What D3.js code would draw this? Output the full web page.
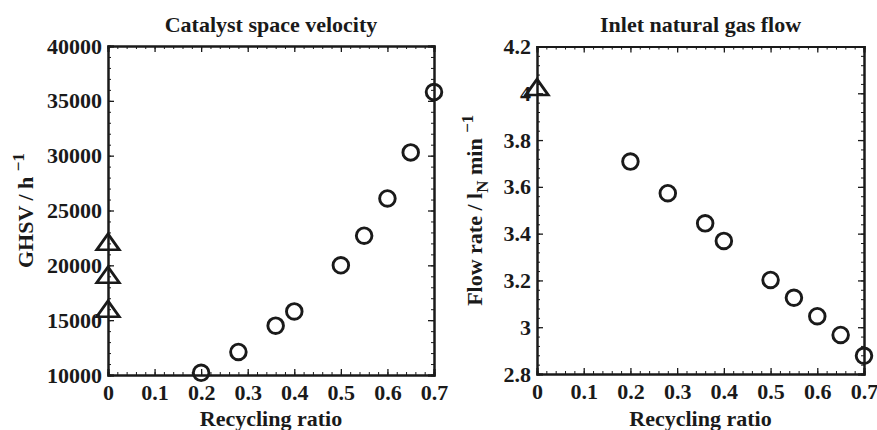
<!DOCTYPE html>
<html>
<head>
<meta charset="utf-8">
<script src="https://cdn.jsdelivr.net/npm/d3@7"></script>
<style>
  html, body { margin: 0; padding: 0; background: #fff; }
  svg { display: block; }
  text { font-family: "Liberation Serif", "Times New Roman", serif; font-weight: bold; fill: #1a1a1a; }
</style>
</head>
<body>
<svg id="chart" width="877" height="430"></svg>
<script>
// Recycling ratio values for the recycle cases (circles)
const recycleRatio = [0.2, 0.28, 0.36, 0.4, 0.5, 0.55, 0.6, 0.65, 0.7];

// Left panel: catalyst GHSV (h^-1)
const ghsvRecycle = [10200, 12100, 14500, 15800, 20000, 22700, 26100, 30300, 35800];
const ghsvNoRecycleRatio = [0, 0, 0];
const ghsvNoRecycle = [21900, 18900, 15800];

// Right panel: inlet natural gas flow (l_N/min)
const flowRecycle = [3.708, 3.573, 3.444, 3.369, 3.202, 3.126, 3.047, 2.967, 2.878];
const flowNoRecycleRatio = [0];
const flowNoRecycle = [4.015];

// Axis ticks
const xTicks = [0, 0.1, 0.2, 0.3, 0.4, 0.5, 0.6, 0.7];
const ghsvTicks = [10000, 15000, 20000, 25000, 30000, 35000, 40000];
const flowTicks = [2.8, 3.0, 3.2, 3.4, 3.6, 3.8, 4.0, 4.2];
const flowTickLabels = ["2.8", "3", "3.2", "3.4", "3.6", "3.8", "4", "4.2"];

const ink = "#1a1a1a";
const fontSize = 22;
const svg = d3.select("#chart");

function panel(opts) {
  const { left, right, top, bottom, yDomain, yTicks, yTickFmt, yMinorStep,
          title, circles, triangles, yLabel, yLabelX } = opts;

  const x = d3.scaleLinear().domain([0, 0.7]).range([left, right]);
  const y = d3.scaleLinear().domain(yDomain).range([bottom, top]);
  const g = svg.append("g");

  const xMinor = d3.range(0, 0.7001, 0.02);
  const yMinor = d3.range(yDomain[0], yDomain[1] + yMinorStep * 0.01, yMinorStep);

  const styleAxis = sel => {
    sel.select(".domain").attr("stroke", ink).attr("stroke-width", 2);
    sel.selectAll(".tick line").attr("stroke", ink).attr("stroke-width", 1.3);
  };
  const styleLabels = sel => sel.selectAll("text")
    .attr("font-size", fontSize).attr("fill", ink)
    .attr("font-family", "Liberation Serif").attr("font-weight", "bold");

  // minor ticks on all four sides
  const minorSides = [
    [d3.axisBottom(x).tickValues(xMinor), `translate(0,${bottom})`],
    [d3.axisTop(x).tickValues(xMinor), `translate(0,${top})`],
    [d3.axisLeft(y).tickValues(yMinor), `translate(${left},0)`],
    [d3.axisRight(y).tickValues(yMinor), `translate(${right},0)`]
  ];
  minorSides.forEach(([ax, tr]) => {
    g.append("g").attr("transform", tr)
      .call(ax.tickSize(-3).tickFormat(""))
      .call(styleAxis)
      .call(s => s.selectAll(".tick line").attr("stroke-width", 1));
  });

  // major ticks, inward; labels on bottom and left only
  g.append("g").attr("transform", `translate(0,${bottom})`)
    .call(d3.axisBottom(x).tickValues(xTicks).tickSize(-6).tickPadding(9)
      .tickFormat(d => d === 0 ? "0" : d3.format(".1f")(d)))
    .call(styleAxis)
    .call(styleLabels);
  g.append("g").attr("transform", `translate(0,${top})`)
    .call(d3.axisTop(x).tickValues(xTicks).tickSize(-6).tickFormat(""))
    .call(styleAxis);
  g.append("g").attr("transform", `translate(${left},0)`)
    .call(d3.axisLeft(y).tickValues(yTicks).tickSize(-6).tickPadding(6).tickFormat(yTickFmt))
    .call(styleAxis)
    .call(styleLabels);
  g.append("g").attr("transform", `translate(${right},0)`)
    .call(d3.axisRight(y).tickValues(yTicks).tickSize(-6).tickFormat(""))
    .call(styleAxis);

  // title
  g.append("text").attr("x", (left + right) / 2).attr("y", 32)
    .attr("text-anchor", "middle").attr("font-size", fontSize).text(title);

  // x axis label
  g.append("text").attr("x", (left + right) / 2).attr("y", 426)
    .attr("text-anchor", "middle").attr("font-size", fontSize).text("Recycling ratio");

  // y axis label
  const yl = g.append("text")
    .attr("transform", `translate(${yLabelX},${(top + bottom) / 2}) rotate(-90)`)
    .attr("text-anchor", "middle").attr("font-size", fontSize);
  yLabel(yl);

  // markers
  g.selectAll("circle.pt").data(circles).join("circle")
    .attr("class", "pt")
    .attr("cx", d => x(d[0])).attr("cy", d => y(d[1])).attr("r", 7.8)
    .attr("fill", "none").attr("stroke", ink).attr("stroke-width", 2.9);

  const tri = d3.symbol().type(d3.symbolTriangle).size(200);
  g.selectAll("path.tri").data(triangles).join("path")
    .attr("class", "tri")
    .attr("d", tri)
    .attr("transform", d => `translate(${x(d[0])},${y(d[1])}) scale(1.05,0.85)`)
    .attr("fill", "none").attr("stroke", ink).attr("stroke-width", 2.9)
    .attr("stroke-linejoin", "miter");
}

panel({
  left: 108, right: 434, top: 46, bottom: 375,
  yDomain: [10000, 40000], yTicks: ghsvTicks, yTickFmt: d => String(d), yMinorStep: 1000,
  title: "Catalyst space velocity",
  circles: d3.zip(recycleRatio, ghsvRecycle),
  triangles: d3.zip(ghsvNoRecycleRatio, ghsvNoRecycle),
  yLabelX: 33,
  yLabel: t => {
    t.append("tspan").text("GHSV / h ");
    t.append("tspan").attr("font-size", 17).attr("dy", -9).text("\u22121");
  }
});

panel({
  left: 537, right: 864, top: 46.5, bottom: 374,
  yDomain: [2.8, 4.2], yTicks: flowTicks, yTickFmt: (d, i) => flowTickLabels[i], yMinorStep: 0.04,
  title: "Inlet natural gas flow",
  circles: d3.zip(recycleRatio, flowRecycle),
  triangles: d3.zip(flowNoRecycleRatio, flowNoRecycle),
  yLabelX: 482,
  yLabel: t => {
    t.append("tspan").text("Flow rate / l");
    t.append("tspan").attr("font-size", 17).attr("dy", 6).text("N");
    t.append("tspan").attr("dy", -6).text(" min ");
    t.append("tspan").attr("font-size", 17).attr("dy", -9).text("\u22121");
  }
});
</script>
</body>
</html>
